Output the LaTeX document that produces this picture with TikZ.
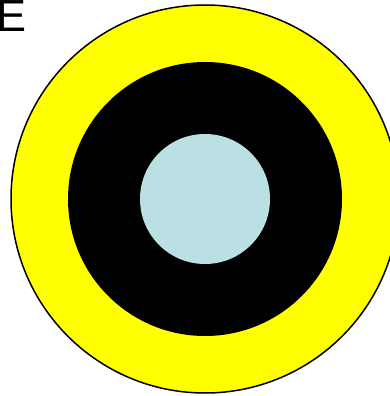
\documentclass[tikz,border=0pt]{standalone}
\usepackage{fontspec}
\setmainfont{Liberation Sans}
\usetikzlibrary{positioning}
\definecolor{paleblue}{RGB}{186,224,228}
\definecolor{pureyellow}{RGB}{255,255,0}

\begin{document}
\begin{tikzpicture}[
    x=1pt, y=-1pt,
    ring/.style={circle, inner sep=0pt, outer sep=0pt},
    outer/.style={ring, draw=black, line width=1.5pt, fill=pureyellow, minimum size=388pt},
    middle/.style={ring, fill=black, minimum size=274pt},
    inner/.style={ring, fill=paleblue, minimum size=130pt},
    tag/.style={inner sep=0pt, anchor=base west, font=\fontsize{45}{54}\selectfont}
]
\useasboundingbox (0,0) rectangle (390,396);

% --- Rings ---
\node[outer] (yel) at (205,199) {};
\node[middle] (blk) at (yel.center) {};
\node[inner] (cen) at (blk.center) {};

% --- Label ---
\node[tag] (lbl) at (-3.6,32) {E};
\end{tikzpicture}
\end{document}
